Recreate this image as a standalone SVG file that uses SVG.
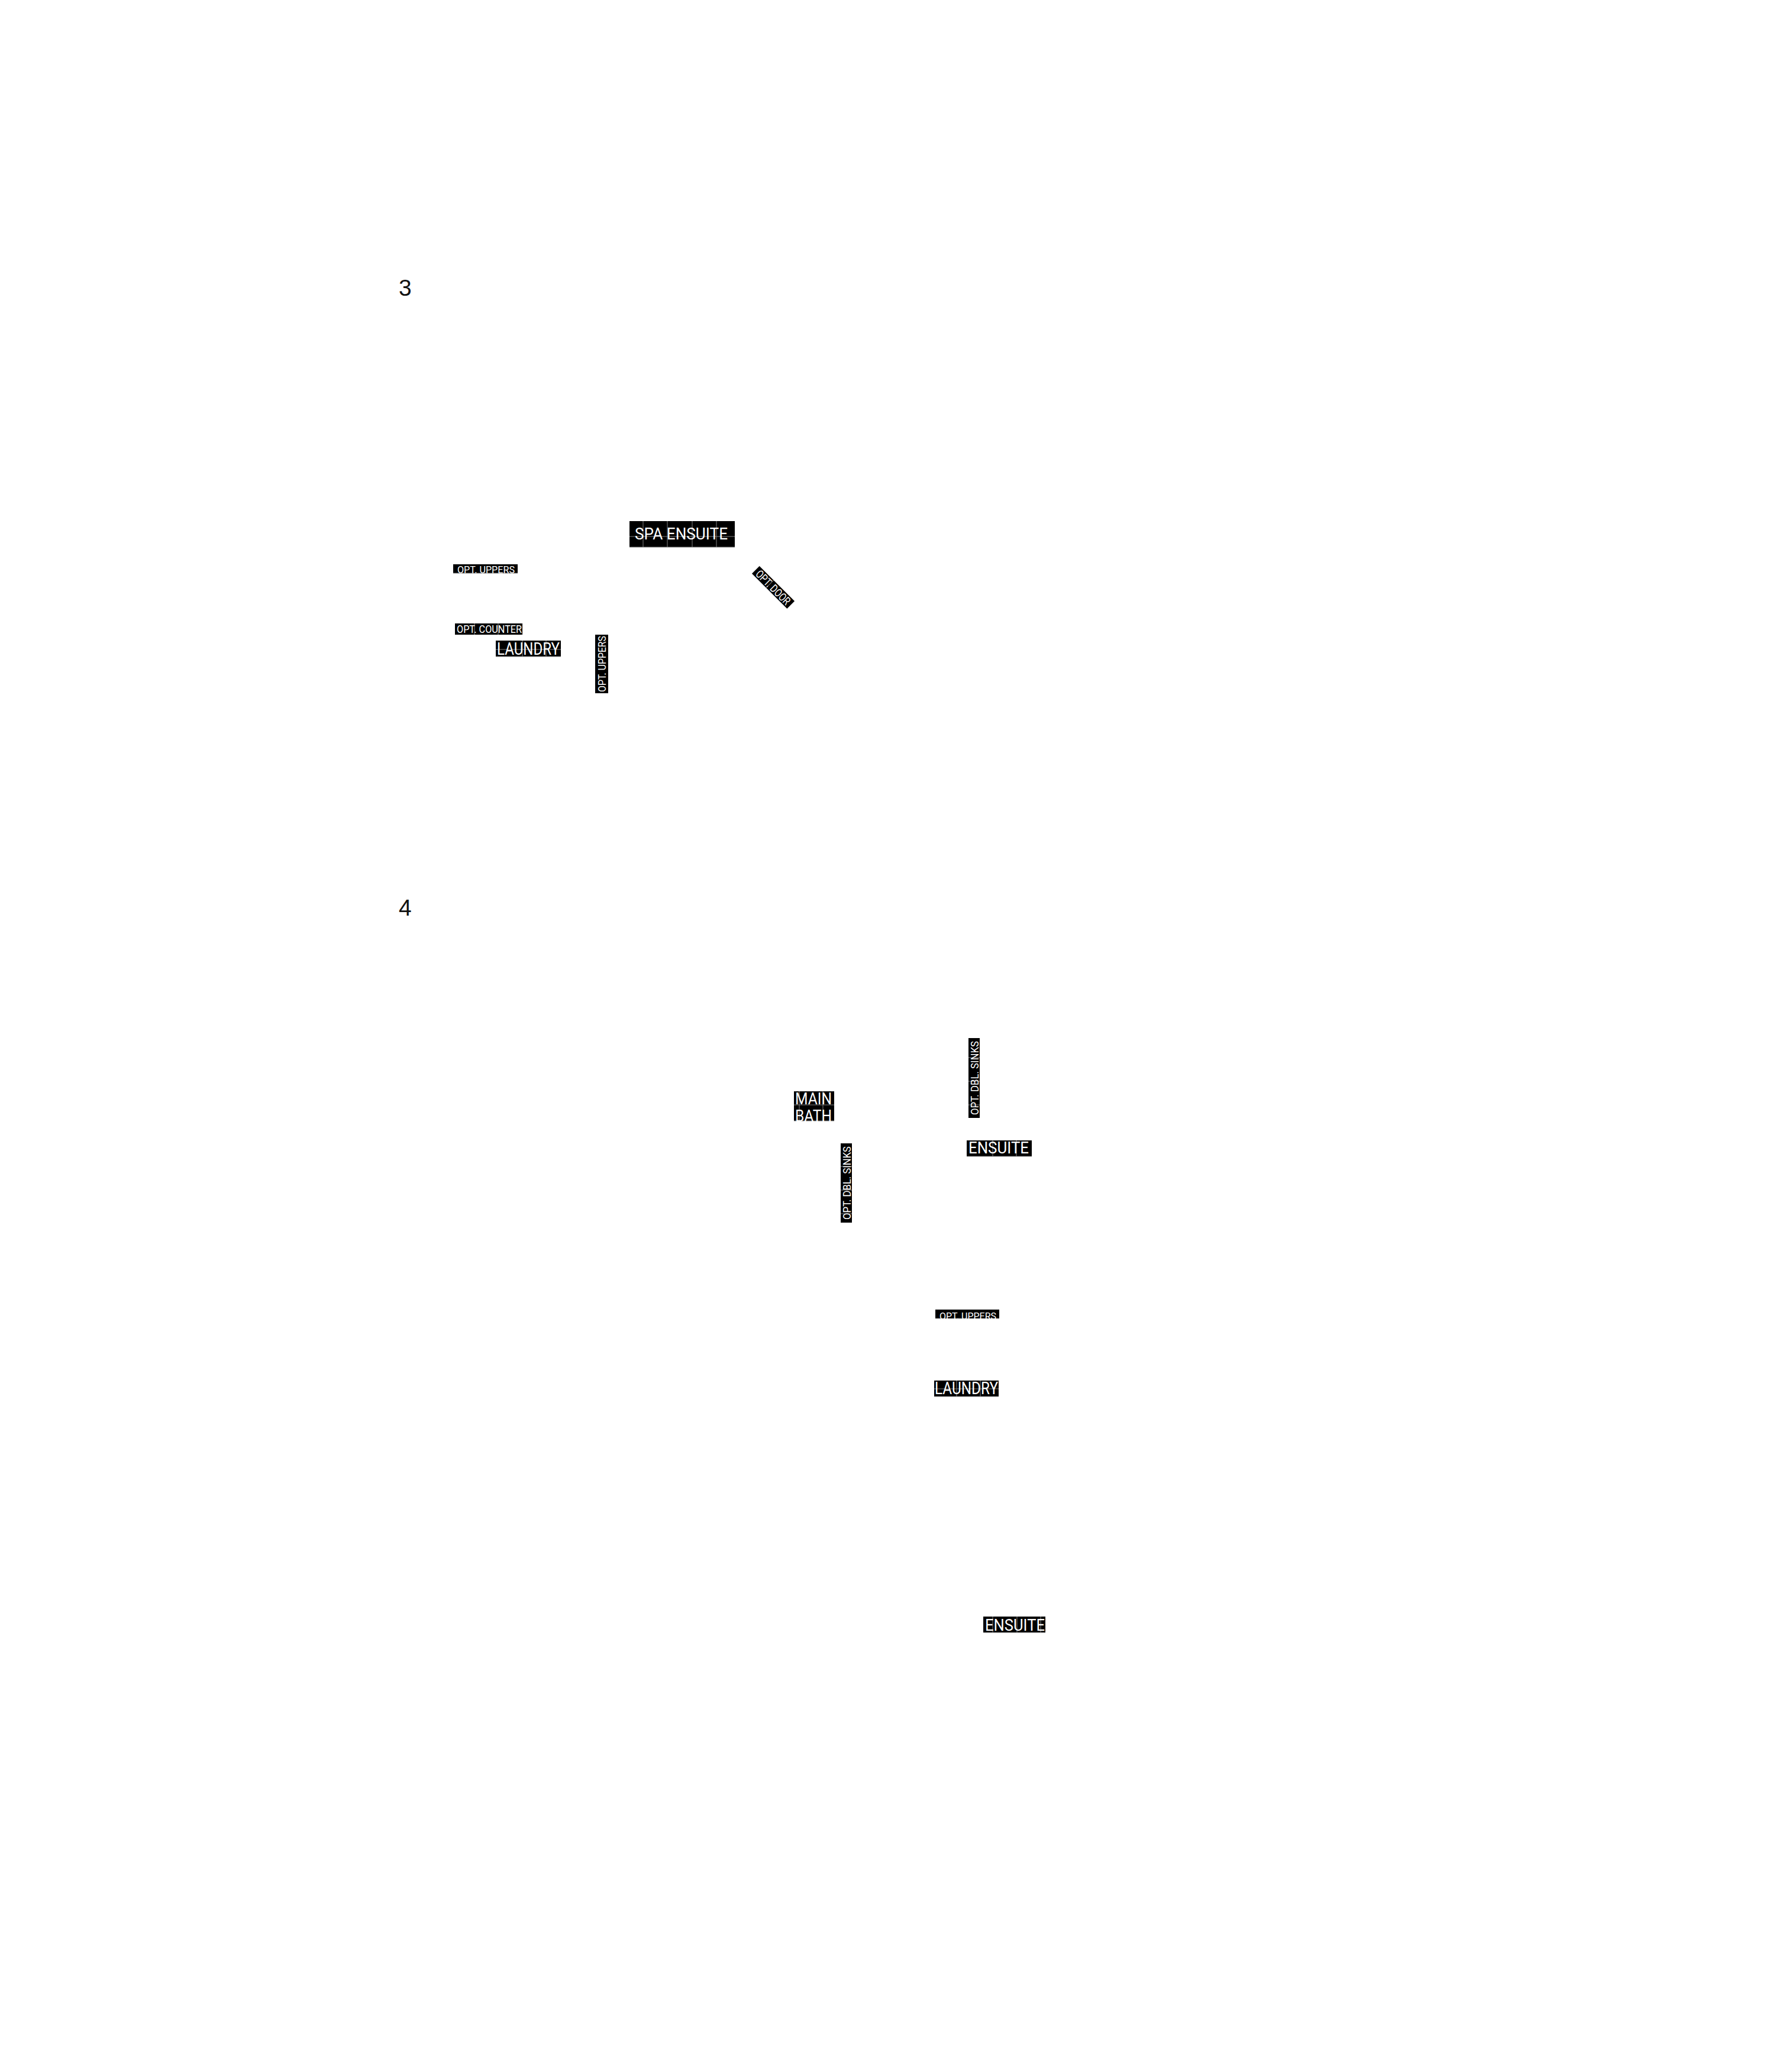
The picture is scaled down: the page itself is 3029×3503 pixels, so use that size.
<svg xmlns="http://www.w3.org/2000/svg" width="3029" height="3503" viewBox="0 0 3029 3503">
<style>
.bg{fill:#ffffff}
.box{fill:#000000}
.lbl{font-family:Roboto,"Liberation Sans",sans-serif;fill:#ffffff}
.grid{stroke:#808080;stroke-width:1;fill:none}
.num{font-family:"Liberation Sans",Arial,sans-serif;font-size:39px;fill:#111111}
</style>
<rect class="bg" x="0" y="0" width="3029" height="3503"/>
<g id="connectors"></g>
<g id="sheet-3"><text class="num" x="674" y="500">3</text></g>
<g id="sheet-4"><text class="num" x="674" y="1548">4</text></g>

<g id="spa-ensuite">
<rect class="box" x="1064" y="881" width="178" height="44"/>
<path class="grid" d="M1087 881V925M1128 881V925M1170 881V925M1211 881V925M1064 907H1242M1064 925H1242"/>
<text class="lbl" x="1073" y="912" font-size="28" textLength="157" lengthAdjust="spacingAndGlyphs">SPA ENSUITE</text>
</g>

<g id="opt-uppers-1">
<rect class="box" x="766" y="954" width="109" height="15"/>
<path class="grid" d="M766 969H875"/>
<text class="lbl" x="773" y="969" font-size="17" textLength="97" lengthAdjust="spacingAndGlyphs">OPT. UPPERS</text>
</g>

<g id="opt-counter">
<rect class="box" x="769" y="1054" width="114" height="19"/>
<path class="grid" d="M802 1054V1073M842 1054V1073M883 1054V1073"/>
<text class="lbl" x="772" y="1070" font-size="19" textLength="110" lengthAdjust="spacingAndGlyphs">OPT. COUNTER</text>
</g>

<g id="laundry-1">
<rect class="box" x="838" y="1083" width="110" height="27"/>
<path class="grid" d="M883 1083V1110M923 1083V1110M838 1098H948M838 1110H948"/>
<text class="lbl" x="840" y="1107" font-size="29" textLength="106" lengthAdjust="spacingAndGlyphs">LAUNDRY</text>
</g>

<g id="opt-uppers-2">
<rect class="box" x="1006" y="1073" width="22" height="99"/>
<text class="lbl" x="1017" y="1129.5" font-size="19" text-anchor="middle" textLength="95" lengthAdjust="spacingAndGlyphs" transform="rotate(-90 1017 1122.5)">OPT. UPPERS</text>
</g>

<g id="opt-door" transform="translate(1307 993) rotate(45)">
<rect class="box" x="-42" y="-9" width="84" height="18"/>
<path class="grid" d="M-8 -9V9"/>
<text class="lbl" x="0" y="7" font-size="19" text-anchor="middle" textLength="74" lengthAdjust="spacingAndGlyphs">OPT. DOOR</text>
</g>

<g id="main-bath">
<rect class="box" x="1342" y="1845" width="68" height="50"/>
<path class="grid" d="M1351 1845V1895M1391 1845V1895M1342 1868H1410M1342 1895H1410"/>
<text class="lbl" font-size="27">
<tspan x="1344" y="1867" textLength="62" lengthAdjust="spacingAndGlyphs">MAIN</tspan>
<tspan x="1344" y="1896" textLength="62" lengthAdjust="spacingAndGlyphs">BATH</tspan>
</text>
</g>

<g id="opt-dbl-sinks-1">
<rect class="box" x="1637" y="1755" width="19" height="135"/>
<path class="grid" d="M1637 1788H1656M1637 1828H1656M1637 1868H1656"/>
<text class="lbl" x="1646.5" y="1829.5" font-size="19" text-anchor="middle" textLength="125" lengthAdjust="spacingAndGlyphs" transform="rotate(-90 1646.5 1822.5)">OPT. DBL. SINKS</text>
</g>

<g id="ensuite-1">
<rect class="box" x="1634" y="1928" width="110" height="27"/>
<path class="grid" d="M1678 1928V1955M1718 1928V1955M1634 1955H1744"/>
<text class="lbl" x="1637" y="1950" font-size="27" textLength="102" lengthAdjust="spacingAndGlyphs">ENSUITE</text>
</g>

<g id="opt-dbl-sinks-2">
<rect class="box" x="1421" y="1933" width="19" height="134"/>
<path class="grid" d="M1421 1972H1440M1421 2012H1440M1421 2052H1440"/>
<text class="lbl" x="1430.5" y="2007" font-size="19" text-anchor="middle" textLength="124" lengthAdjust="spacingAndGlyphs" transform="rotate(-90 1430.5 2000)">OPT. DBL. SINKS</text>
</g>

<g id="opt-uppers-3">
<rect class="box" x="1581" y="2214" width="108" height="15"/>
<path class="grid" d="M1581 2229H1689"/>
<text class="lbl" x="1588" y="2231" font-size="17" textLength="96" lengthAdjust="spacingAndGlyphs">OPT. UPPERS</text>
</g>

<g id="laundry-2">
<rect class="box" x="1579" y="2334" width="109" height="27"/>
<path class="grid" d="M1617 2334V2361M1657 2334V2361M1579 2348H1688M1579 2361H1688"/>
<text class="lbl" x="1580" y="2357" font-size="29" textLength="107" lengthAdjust="spacingAndGlyphs">LAUNDRY</text>
</g>

<g id="ensuite-2">
<rect class="box" x="1662" y="2733" width="105" height="27"/>
<path class="grid" d="M1678 2733V2760M1719 2733V2760M1759 2733V2760M1662 2760H1767"/>
<text class="lbl" x="1665" y="2757" font-size="27" textLength="101" lengthAdjust="spacingAndGlyphs">ENSUITE</text>
</g>
</svg>
